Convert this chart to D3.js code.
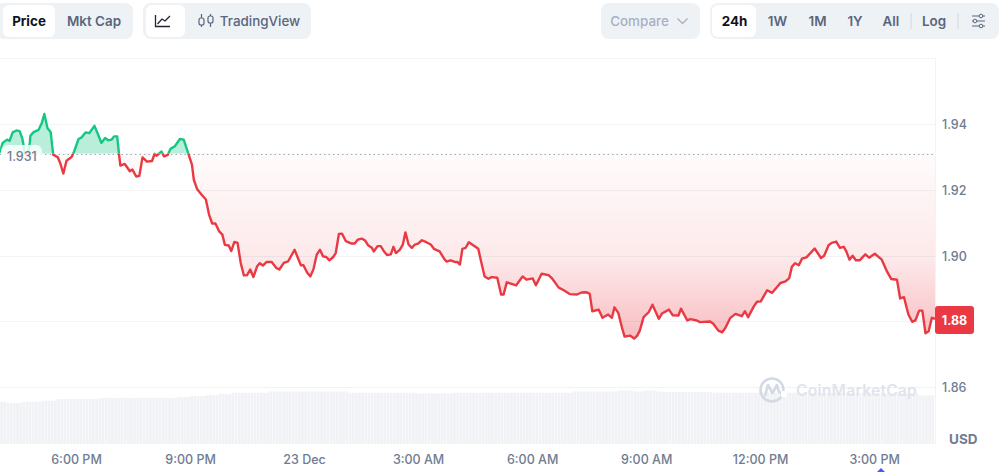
<!DOCTYPE html>
<html><head><meta charset="utf-8">
<script src="https://cdn.jsdelivr.net/npm/d3@7"></script>
<style>html,body{margin:0;padding:0;background:#fff}svg{display:block}text{font-family:Inter,"Noto Sans",sans-serif}</style>
</head><body><div id="c"></div>
<script>
// minutes after the first sample (22 Dec, 4:00 PM) and the price at that moment
const minutes = [
0,4,11,15,20,26,31,35,37,39,
43,47,48,53,61,66,70,75,80,84,
91,95,100,105,113,117,124,129,135,141,
149,155,160,166,171,176,180,185,188,190,
197,205,209,215,220,225,232,240,244,247,
255,259,265,269,276,284,290,298,303,306,
311,318,325,330,335,340,346,351,355,361,
365,370,375,380,385,390,395,400,406,410,
415,421,429,436,441,448,455,465,475,479,
485,490,495,500,505,510,515,520,526,530,
535,540,546,555,560,565,571,576,581,587,
590,596,601,607,611,617,621,625,631,636,
640,645,650,655,660,666,673,680,685,694,
701,705,711,718,722,726,730,735,740,747,
755,760,765,771,776,785,791,795,800,815,
825,831,841,846,855,866,871,882,890,900,
911,918,926,931,935,945,951,960,966,970,
976,982,986,995,1001,1006,1010,1016,1024,1030,
1040,1045,1056,1062,1071,1075,1085,1090,1100,1105,
1121,1126,1134,1140,1145,1153,1161,1171,1176,1181,
1190,1195,1201,1211,1219,1232,1240,1246,1250,1255,
1261,1266,1273,1286,1296,1301,1308,1313,1320,1326,
1332,1336,1341,1346,1351,1357,1366,1372,1381,1392,
1400,1407,1416,1421,1427,1434,1440,1445,1451,1456,
1461,1466,1471,1476];
const prices = [
1.9314,1.9343,1.9353,1.9349,1.9375,1.9381,1.9379,1.9358,1.9338,1.9312,
1.9307,1.9343,1.9365,1.9376,1.9383,1.9404,1.9431,1.9388,1.9376,1.9307,
1.9300,1.9282,1.9250,1.9289,1.9300,1.9317,1.9355,1.9360,1.9375,1.9373,
1.9395,1.9368,1.9343,1.9358,1.9351,1.9353,1.9363,1.9363,1.9307,1.9274,
1.9279,1.9257,1.9262,1.9241,1.9243,1.9299,1.9286,1.9288,1.9310,1.9304,
1.9317,1.9302,1.9307,1.9325,1.9333,1.9355,1.9353,1.9307,1.9277,1.9231,
1.9203,1.9186,1.9171,1.9125,1.9098,1.9098,1.9074,1.9064,1.9033,1.9031,
1.9014,1.9042,1.9039,1.8978,1.8940,1.8941,1.8958,1.8935,1.8968,1.8977,
1.8970,1.8981,1.8981,1.8963,1.8958,1.8978,1.8983,1.9018,1.8971,1.8971,
1.8948,1.8937,1.8960,1.9003,1.9018,1.8998,1.8996,1.8986,1.8996,1.9008,
1.9066,1.9067,1.9044,1.9037,1.9037,1.9049,1.9052,1.9047,1.9032,1.9024,
1.9013,1.9029,1.9029,1.9011,1.9002,1.9004,1.9027,1.9008,1.9018,1.9034,
1.9071,1.9034,1.9024,1.9034,1.9037,1.9047,1.9041,1.9034,1.9021,1.9013,
1.8991,1.8982,1.8986,1.8981,1.8981,1.8973,1.9021,1.9024,1.9041,1.9032,
1.9021,1.8978,1.8937,1.8930,1.8935,1.8933,1.8882,1.8882,1.8919,1.8910,
1.8937,1.8927,1.8931,1.8910,1.8945,1.8941,1.8932,1.8903,1.8895,1.8883,
1.8882,1.8888,1.8889,1.8884,1.8831,1.8836,1.8811,1.8821,1.8811,1.8843,
1.8826,1.8780,1.8754,1.8757,1.8748,1.8757,1.8772,1.8813,1.8828,1.8851,
1.8808,1.8824,1.8836,1.8819,1.8818,1.8839,1.8803,1.8807,1.8803,1.8798,
1.8800,1.8793,1.8772,1.8767,1.8780,1.8811,1.8823,1.8816,1.8831,1.8813,
1.8846,1.8860,1.8861,1.8895,1.8887,1.8917,1.8922,1.8932,1.8966,1.8977,
1.8971,1.8991,1.8995,1.9022,1.8993,1.9000,1.9032,1.9039,1.9043,1.9024,
1.9027,1.9013,1.8988,1.9000,1.8986,1.8986,1.9004,1.8994,1.9006,1.8988,
1.8953,1.8929,1.8927,1.8870,1.8874,1.8821,1.8799,1.8803,1.8833,1.8833,
1.8764,1.8770,1.8811,1.8808];
// volume: runs of [number of 5-minute bars, bar value]
const volumeRuns = [[2,42.3],[5,41],[6,42.3],[5,43.3],[13,45],[25,46],[4,47],[5,48],[4,49],[4,50],[12,51.3],[25,52.5],[21,51.3],[12,50.5],[38,51.3],[14,52.5],[5,53.5],[3,52.5],[4,53.5],[2,52.5],[16,52],[30,51.3],[20,51],[15,50.5],[5,48.5]];
const openPrice = 1.931, lastPrice = 1.8808;
const yTicks = [1.94,1.92,1.90,1.88,1.86];
const xTickMinutes = [120,300,480,660,840,1020,1200,1380];
const xTickLabels = ["6:00 PM","9:00 PM","23 Dec","3:00 AM","6:00 AM","9:00 AM","12:00 PM","3:00 PM"];
const leftTabs = ["Price","Mkt Cap"];
const rangeTabs = ["24h","1W","1M","1Y","All"];

const W=1007,H=472, plotR=935, plotT=58, plotB=444;
const GREEN="#16c784", RED="#ea3943", GRID="#f1f3f6", GREY="#707c91";
const svg=d3.select("#c").append("svg").attr("width",W).attr("height",H).attr("viewBox",`0 0 ${W} ${H}`);
const x=d3.scaleLinear().domain([0,1476]).range([0,plotR]);
const y=d3.scaleLinear().domain([1.86,1.94]).range([387.2,124.2]);
const yVol=d3.scaleLinear().domain([0,60]).range([plotB,plotB-60]);
const data=minutes.map((m,i)=>({m,p:prices[i]}));
const base=y(openPrice);

const defs=svg.append("defs");
const rg=defs.append("linearGradient").attr("id","redFill").attr("gradientUnits","userSpaceOnUse").attr("x1",0).attr("x2",0).attr("y1",base).attr("y2",y(1.875));
[[0,.02],[.57,.11],[1,.33]].forEach(s=>rg.append("stop").attr("offset",s[0]).attr("stop-color",RED).attr("stop-opacity",s[1]));
defs.append("clipPath").attr("id","above").append("rect").attr("x",0).attr("y",0).attr("width",plotR).attr("height",base);
defs.append("clipPath").attr("id","below").append("rect").attr("x",0).attr("y",base).attr("width",plotR).attr("height",H-base);

// frame
svg.append("line").attr("x1",0).attr("x2",plotR).attr("y1",plotT+.5).attr("y2",plotT+.5).attr("stroke",GRID);
svg.append("line").attr("x1",plotR+.5).attr("x2",plotR+.5).attr("y1",plotT).attr("y2",plotB+1).attr("stroke",GRID);

// grid
svg.append("g").selectAll("line").data(yTicks).join("line")
 .attr("x1",0).attr("x2",plotR).attr("y1",d=>Math.round(y(d))+.5).attr("y2",d=>Math.round(y(d))+.5).attr("stroke",GRID);

// volume bars
let k=0; const vols=[];
volumeRuns.forEach(([n,v])=>{for(let i=0;i<n;i++)vols.push({m:k++*5,v});});
svg.append("g").selectAll("rect").data(vols).join("rect")
 .attr("x",d=>x(d.m)+.2).attr("width",x(5)-x(0)-.4).attr("y",d=>yVol(d.v)).attr("height",d=>plotB-yVol(d.v)).attr("fill","#f0f2f5");

// watermark
const wm=svg.append("g");
wm.append("circle").attr("cx",772).attr("cy",390).attr("r",11.5).attr("fill","none").attr("stroke","#d3dae6").attr("stroke-width",2.6);
wm.append("path").attr("d","M765 396 L768 385 L772.5 393 L777 385 L779 392 L784 394").attr("fill","none").attr("stroke","#d3dae6").attr("stroke-width",2.6).attr("stroke-linejoin","round");
wm.append("rect").attr("x",781).attr("y",391).attr("width",6).attr("height",6).attr("fill","#fff");
wm.append("text").attr("x",796).attr("y",396).attr("font-size",15.6).attr("font-weight",600).attr("fill","#dfe4ec").attr("letter-spacing",.25).text("CoinMarketCap");

// areas and line
const area=d3.area().x(d=>x(d.m)).y0(base).y1(d=>y(d.p));
const line=d3.line().x(d=>x(d.m)).y(d=>y(d.p));
svg.append("path").datum(data).attr("d",area).attr("fill","#16c784").attr("fill-opacity",.3).attr("clip-path","url(#above)");
svg.append("path").datum(data).attr("d",area).attr("fill","url(#redFill)").attr("clip-path","url(#below)");
svg.append("line").attr("x1",0).attr("x2",plotR).attr("y1",Math.round(base)+.5).attr("y2",Math.round(base)+.5).attr("stroke","#a1a7bb").attr("stroke-dasharray","1.5 3");
svg.append("path").datum(data).attr("d",line).attr("fill","none").attr("stroke",GREEN).attr("stroke-width",2.4).attr("stroke-linejoin","round").attr("clip-path","url(#above)");
svg.append("path").datum(data).attr("d",line).attr("fill","none").attr("stroke",RED).attr("stroke-width",2.4).attr("stroke-linejoin","round").attr("clip-path","url(#below)");

// open price label
svg.append("rect").attr("x",1).attr("y",145).attr("width",41).attr("height",22).attr("rx",6).attr("fill","#fff").attr("fill-opacity",.82);
svg.append("text").attr("x",7).attr("y",161).attr("font-size",12.5).attr("font-weight",500).attr("fill",GREY).text(openPrice.toFixed(3));

// axes
const yAxis=d3.axisRight(y).tickValues(yTicks).tickFormat(d3.format(".2f")).tickSize(0).tickPadding(0);
const ya=svg.append("g").attr("transform",`translate(942,0.7)`).call(yAxis);
ya.select(".domain").remove();
ya.selectAll("text").attr("font-size",12.5).attr("font-weight",500).attr("fill",GREY).attr("font-family","Inter");
const xAxis=d3.axisBottom(x).tickValues(xTickMinutes).tickFormat((d,i)=>xTickLabels[i]).tickSize(0).tickPadding(0);
const xa=svg.append("g").attr("transform",`translate(0,455)`).call(xAxis);
xa.select(".domain").remove();
xa.selectAll("text").attr("font-size",12.5).attr("font-weight",500).attr("fill",GREY).attr("font-family","Inter");
svg.append("text").attr("x",949).attr("y",444).attr("font-size",13.5).attr("font-weight",700).attr("fill",GREY).text("USD");

// price tag
svg.append("rect").attr("x",935).attr("y",306).attr("width",39).attr("height",28).attr("rx",3).attr("fill",RED);
svg.append("text").attr("x",954.5).attr("y",325).attr("text-anchor","middle").attr("font-size",12.5).attr("font-weight",700).attr("fill","#fff").text(lastPrice.toFixed(2));

// event marker
svg.append("path").attr("d","M881 468 l4 4 h-8 z").attr("fill","#3861fb");

// toolbar
const BTN="#eff2f5", TXT="#58667e", ACT="#0d1421";
const box=(a,b,t=3,h=36,fill=BTN,r=8)=>svg.append("rect").attr("x",a).attr("y",t).attr("width",b-a).attr("height",h).attr("rx",r).attr("fill",fill);
const label=(s,cx,c=TXT,w=600,fs=13.4)=>svg.append("text").attr("x",cx).attr("y",26).attr("text-anchor","middle").attr("font-size",fs).attr("font-weight",w).attr("fill",c).text(s);
box(-4,133); box(3,55,5,32,"#fff",6);
label(leftTabs[0],29,ACT,700); label(leftTabs[1],94);
box(143,311); box(146,185,5,32,"#fff",6);
svg.append("path").attr("d","M155.5 15 V26.5 H170 M157.5 24 L162 19 L165 21 L170 16").attr("fill","none").attr("stroke","#222531").attr("stroke-width",1.3);
svg.append("path").attr("d","M201.5 14 V27 M210.5 14 V27").attr("stroke",TXT).attr("stroke-width",1.2);
svg.append("rect").attr("x",199).attr("y",18).attr("width",5).attr("height",7).attr("rx",2).attr("fill","#eff2f5").attr("stroke",TXT).attr("stroke-width",1.2);
svg.append("rect").attr("x",208).attr("y",16).attr("width",5).attr("height",7).attr("rx",2).attr("fill","#eff2f5").attr("stroke",TXT).attr("stroke-width",1.2);
label("TradingView",260,TXT,500);
box(601,700);
label("Compare",639.5,"#a6b0c3",500);
svg.append("path").attr("d","M677.5 18.5 L682.5 23.5 L687.5 18.5").attr("fill","none").attr("stroke","#a6b0c3").attr("stroke-width",1.3);
box(710,999); box(712,756,5,32,"#fff",6);
[734.5,777.5,817.5,855,891].forEach((cx,i)=>label(rangeTabs[i],cx,i?TXT:ACT,i?600:700));
label("Log",934);
svg.append("line").attr("x1",911).attr("x2",911).attr("y1",13).attr("y2",29).attr("stroke","#cfd6e4");
svg.append("line").attr("x1",958).attr("x2",958).attr("y1",13).attr("y2",29).attr("stroke","#cfd6e4");
[[16,981],[21,975],[26,981]].forEach(([yy,cx])=>{
 svg.append("line").attr("x1",972).attr("x2",985).attr("y1",yy).attr("y2",yy).attr("stroke",TXT).attr("stroke-width",1);
 svg.append("circle").attr("cx",cx).attr("cy",yy).attr("r",1.8).attr("fill",BTN).attr("stroke",TXT);
});
</script></body></html>
